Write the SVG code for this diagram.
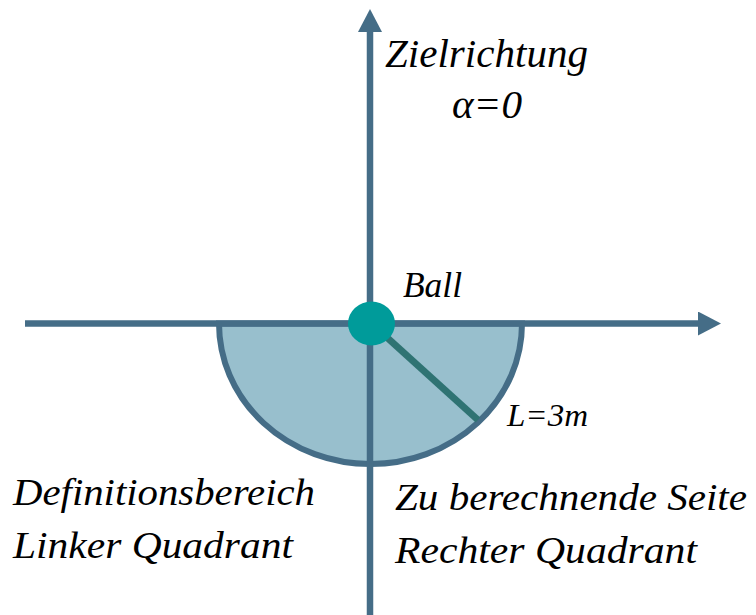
<svg xmlns="http://www.w3.org/2000/svg" width="756" height="615" viewBox="0 0 756 615">
<style>
text{font-family:'Liberation Serif','Times New Roman',Times,serif;font-style:italic;fill:#000}
.ax{stroke:#456D87;stroke-width:6.5;fill:none}
</style>
<defs>
<marker id="ah" markerUnits="userSpaceOnUse" viewBox="0 0 23 24" markerWidth="23" markerHeight="24" refX="0" refY="12" orient="auto">
<path d="M0,0 L23,12 L0,24 Z" fill="#456D87"/>
</marker>
</defs>
<g id="region">
<path d="M219,323.5 A151.5,140.5 0 0 0 522,323.5 Z" fill="#98BFCD" stroke="#456D87" stroke-width="6"/>
</g>
<g id="connectors">
<line class="ax" x1="370" y1="615" x2="370" y2="32" marker-end="url(#ah)"/>
<line class="ax" x1="25" y1="323.5" x2="698" y2="323.5" marker-end="url(#ah)"/>
<line x1="371" y1="323" x2="478" y2="420" stroke="#2F7373" stroke-width="7"/>
</g>
<g id="ball">
<ellipse cx="371.5" cy="323.5" rx="23.5" ry="22" fill="#009B9A"/>
<text x="403" y="297" font-size="36" textLength="59" lengthAdjust="spacingAndGlyphs">Ball</text>
</g>
<g id="target">
<text x="385" y="67" font-size="41" textLength="203" lengthAdjust="spacingAndGlyphs">Zielrichtung</text>
<text x="452" y="118" font-size="40" textLength="70" lengthAdjust="spacingAndGlyphs">α=0</text>
</g>
<g id="length">
<text x="507" y="426" font-size="31" textLength="81" lengthAdjust="spacingAndGlyphs">L=3m</text>
</g>
<g id="left-label">
<text x="13" y="505" font-size="38" textLength="302" lengthAdjust="spacingAndGlyphs">Definitionsbereich</text>
<text x="13" y="558" font-size="38" textLength="280" lengthAdjust="spacingAndGlyphs">Linker Quadrant</text>
</g>
<g id="right-label">
<text x="395" y="510" font-size="38" textLength="352" lengthAdjust="spacingAndGlyphs">Zu berechnende Seite</text>
<text x="395" y="563" font-size="38" textLength="302" lengthAdjust="spacingAndGlyphs">Rechter Quadrant</text>
</g>
</svg>
